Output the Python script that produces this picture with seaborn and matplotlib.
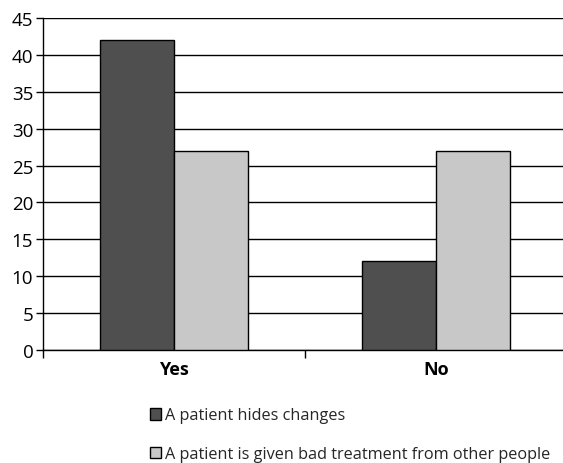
import matplotlib
matplotlib.use("Agg")
import matplotlib.pyplot as plt
import seaborn as sns
import pandas as pd
from matplotlib.patches import Patch
from matplotlib.ticker import FixedLocator

categories = ["Yes", "No"]
series_names = ["A patient hides changes",
                "A patient is given bad treatment from other people"]
hides_changes = [42, 12]
bad_treatment = [27, 27]
colors = ["#4f4f4f", "#c8c8c8"]

df = pd.DataFrame({
    "answer": categories * 2,
    "series": [series_names[0]] * 2 + [series_names[1]] * 2,
    "value": hides_changes + bad_treatment,
})

sns.set_theme(style="white")
plt.rcParams["font.family"] = ["Open Sans", "DejaVu Sans"]

fig = plt.figure(figsize=(5.63, 4.64), dpi=100)
ax = fig.add_axes([43/563, 113/464, 524/563, 332/464])

sns.barplot(data=df, x="answer", y="value", hue="series", order=categories,
            hue_order=series_names, palette=colors, width=0.565,
            edgecolor="black", linewidth=1.0, ax=ax, legend=False, zorder=3)

ax.set_xlim(-0.5, 1.5)
ax.set_ylim(0, 45)
ax.set_yticks(range(0, 46, 5))
ax.yaxis.grid(True, color="black", linewidth=1.0, zorder=0)
ax.set_axisbelow(True)
ax.set_xlabel("")
ax.set_ylabel("")
for s in ["top", "right"]:
    ax.spines[s].set_visible(False)
for s in ["left", "bottom"]:
    ax.spines[s].set_color("black")
    ax.spines[s].set_linewidth(1.0)

ax.tick_params(axis="y", left=True, length=5, width=1, color="black",
               labelsize=13.5, labelcolor="black", pad=2)
ax.tick_params(axis="x", which="major", length=0, labelsize=13,
               labelcolor="black", pad=7)
ax.xaxis.set_minor_locator(FixedLocator([-0.5, 0.5, 1.5]))
ax.tick_params(axis="x", which="minor", bottom=True, length=6, width=1,
               color="black")
for lbl in ax.get_xticklabels():
    lbl.set_fontweight("bold")

handles = [Patch(facecolor=c, edgecolor="black", linewidth=1.0) for c in colors]
fig.legend(handles, series_names, loc="upper left",
           bbox_to_anchor=(143/563, 1 - 402/464), frameon=False,
           fontsize=11.7, handlelength=0.7, handleheight=0.7,
           handletextpad=0.25, labelspacing=1.4, borderaxespad=0)

fig.savefig("out.png", dpi=100)
